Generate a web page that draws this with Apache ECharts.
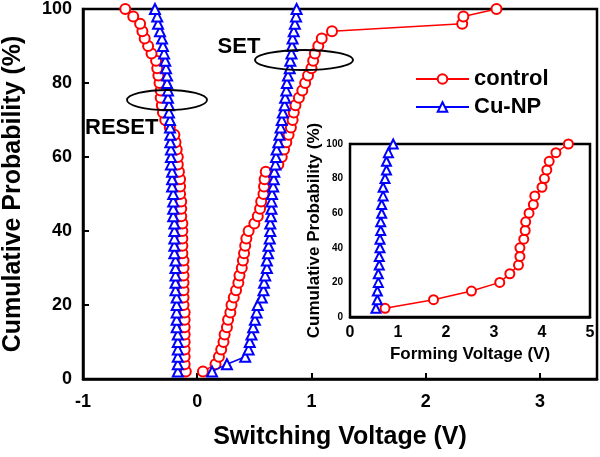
<!DOCTYPE html>
<html><head><meta charset="utf-8">
<script src="https://cdn.jsdelivr.net/npm/echarts@6/dist/echarts.min.js"></script>
<style>html,body{margin:0;padding:0;background:#fff}#c{width:600px;height:457px}</style>
</head><body><div id="c"></div>
<script>
// Main plot: cumulative probability (%)
const probMain = [2,4,6,8,10,12,14,16,18,20,22,24,26,28,30,32,34,36,38,40,42,44,46,48,50,52,54,56,58,60,62,64,66,68,70,72,74,76,78,80,82,84,86,88,90,92,94,96,98,100];
// switching voltages (V)
const controlReset = [-0.10,-0.11,-0.11,-0.11,-0.11,-0.11,-0.11,-0.11,-0.11,-0.12,-0.12,-0.12,-0.12,-0.12,-0.12,-0.12,-0.13,-0.13,-0.13,-0.13,-0.13,-0.14,-0.14,-0.14,-0.15,-0.15,-0.15,-0.16,-0.17,-0.17,-0.18,-0.19,-0.20,-0.24,-0.28,-0.30,-0.31,-0.32,-0.32,-0.33,-0.34,-0.35,-0.36,-0.40,-0.43,-0.46,-0.48,-0.50,-0.56,-0.63];
const controlSet = [0.05,0.16,0.19,0.21,0.23,0.24,0.26,0.27,0.29,0.30,0.32,0.34,0.36,0.37,0.39,0.40,0.41,0.42,0.43,0.45,0.50,0.53,0.55,0.56,0.58,0.585,0.59,0.60,0.71,0.74,0.76,0.78,0.80,0.82,0.835,0.845,0.86,0.89,0.92,0.945,0.97,1.00,1.015,1.03,1.06,1.09,1.18,2.32,2.33,2.62];
const cuReset = [-0.17,-0.17,-0.17,-0.17,-0.17,-0.17,-0.18,-0.18,-0.18,-0.18,-0.18,-0.19,-0.19,-0.19,-0.19,-0.19,-0.20,-0.20,-0.20,-0.20,-0.20,-0.21,-0.21,-0.21,-0.21,-0.22,-0.22,-0.22,-0.23,-0.23,-0.23,-0.235,-0.235,-0.238,-0.238,-0.247,-0.247,-0.256,-0.256,-0.264,-0.264,-0.273,-0.28,-0.29,-0.30,-0.308,-0.326,-0.343,-0.35,-0.37];
const cuSet = [0.13,0.26,0.42,0.45,0.46,0.475,0.49,0.505,0.52,0.53,0.565,0.58,0.585,0.595,0.61,0.61,0.62,0.625,0.635,0.64,0.64,0.645,0.65,0.65,0.655,0.665,0.67,0.675,0.685,0.69,0.695,0.71,0.72,0.73,0.74,0.75,0.765,0.77,0.78,0.785,0.795,0.81,0.815,0.825,0.83,0.835,0.845,0.855,0.865,0.87];
// Inset: forming voltage
const probInset = [5,10,15,20,25,30,35,40,45,50,55,60,65,70,75,80,85,90,95,100];
const controlForming = [0.73,1.74,2.53,3.12,3.33,3.51,3.54,3.54,3.62,3.65,3.66,3.73,3.82,3.85,4.00,4.05,4.10,4.15,4.29,4.55];
const cuForming = [0.54,0.57,0.57,0.59,0.59,0.61,0.61,0.625,0.625,0.64,0.64,0.66,0.66,0.69,0.69,0.73,0.76,0.76,0.80,0.90];
const mainXTicks = [-1,0,1,2,3];
const insetXTicks = [0,1,2,3,4,5];

const FONT = "'Liberation Sans', Arial, sans-serif";
const RED = '#ff0000', BLUE = '#0000ff';
const pairs = (xs, ys) => xs.map((x, i) => [x, ys[i]]);

function mkSeries(name, data, color, symbol, size, xi, yi) {
  return {
    name, type: 'line', data, xAxisIndex: xi, yAxisIndex: yi,
    symbol, symbolSize: size, showSymbol: true,
    lineStyle: { color, width: 1.5 },
    itemStyle: { color, borderColor: color, borderWidth: 1.8 },
    emphasis: { disabled: true }, animation: false, z: color === BLUE ? 3 : 2
  };
}

const axisCommon = (fs) => ({
  axisLine: { show: true, onZero: false, lineStyle: { color: '#000', width: 2.5 } },
  axisTick: { show: true, inside: true, length: 6, lineStyle: { color: '#000', width: 2 } },
  splitLine: { show: false },
  axisLabel: { color: '#000', fontFamily: FONT, fontWeight: 'bold', fontSize: fs },
  nameTextStyle: { color: '#000', fontFamily: FONT, fontWeight: 'bold' }
});

const chart = echarts.init(document.getElementById('c'), null, { renderer: 'canvas' });
const mx = axisCommon(18), my = axisCommon(18), ix = axisCommon(16), iy = axisCommon(10);
chart.setOption({
  backgroundColor: '#fff',
  animation: false,
  grid: [
    { left: 83, top: 9, right: 3, bottom: 78, show: true, borderColor: '#000', borderWidth: 2.5, backgroundColor: 'transparent', containLabel: false, outerBoundsMode: 'none' },
    { left: 350, top: 144, width: 240, height: 173, show: true, borderColor: '#000', borderWidth: 2.5, backgroundColor: '#fff', z: 1, containLabel: false, outerBoundsMode: 'none' }
  ],
  legend: {
    data: ['control', 'Cu-NP'], orient: 'vertical', left: 410, top: 63,
    itemWidth: 53, itemHeight: 12, itemGap: 6,
    textStyle: { fontFamily: FONT, fontWeight: 'bold', fontSize: 22, color: '#000', lineHeight: 22 }
  },
  xAxis: [
    Object.assign(mx, { type: 'value', gridIndex: 0, min: -1, max: 3.5, interval: 1,
      name: 'Switching Voltage (V)', nameLocation: 'middle', nameGap: 46,
      nameTextStyle: Object.assign(mx.nameTextStyle, { fontSize: 25 }),
      axisLabel: Object.assign(mx.axisLabel, { margin: 14, showMaxLabel: false,
        formatter: v => mainXTicks.includes(v) ? String(v) : '' }) }),
    Object.assign(ix, { type: 'value', gridIndex: 1, min: 0, max: 5, interval: 1,
      name: 'Forming Voltage (V)', nameLocation: 'middle', nameGap: 29,
      nameTextStyle: Object.assign(ix.nameTextStyle, { fontSize: 17 }),
      axisLabel: Object.assign(ix.axisLabel, { margin: 8,
        formatter: v => insetXTicks.includes(v) ? String(v) : '' }) })
  ],
  yAxis: [
    Object.assign(my, { type: 'value', gridIndex: 0, min: 0, max: 100, interval: 20,
      name: 'Cumulative Probability (%)', nameLocation: 'middle', nameGap: 57,
      nameTextStyle: Object.assign(my.nameTextStyle, { fontSize: 25 }),
      axisLabel: Object.assign(my.axisLabel, { margin: 11 }) }),
    Object.assign(iy, { type: 'value', gridIndex: 1, min: 0, max: 100, interval: 20,
      name: 'Cumulative Probability (%)', nameLocation: 'middle', nameGap: 26,
      nameTextStyle: Object.assign(iy.nameTextStyle, { fontSize: 17 }),
      axisLabel: Object.assign(iy.axisLabel, { margin: 7 }) })
  ],
  series: [
    mkSeries('control', pairs(controlReset, probMain), RED, 'emptyCircle', 10, 0, 0),
    mkSeries('control', pairs(controlSet, probMain), RED, 'emptyCircle', 10, 0, 0),
    mkSeries('Cu-NP', pairs(cuReset, probMain), BLUE, 'emptyTriangle', 10, 0, 0),
    mkSeries('Cu-NP', pairs(cuSet, probMain), BLUE, 'emptyTriangle', 10, 0, 0),
    mkSeries('control', pairs(controlForming, probInset), RED, 'emptyCircle', 9, 1, 1),
    mkSeries('Cu-NP', pairs(cuForming, probInset), BLUE, 'emptyTriangle', 9, 1, 1)
  ],
  graphic: [
    { type: 'ellipse', shape: { cx: 304, cy: 60, rx: 49, ry: 10 }, style: { fill: 'none', stroke: '#000', lineWidth: 1.8 }, z: 10 },
    { type: 'ellipse', shape: { cx: 167, cy: 100, rx: 40, ry: 10 }, style: { fill: 'none', stroke: '#000', lineWidth: 1.8 }, z: 10 },
    { type: 'text', x: 239, y: 47, style: { text: 'SET', font: "bold 22px 'Liberation Sans', Arial, sans-serif", fill: '#000', align: 'center', verticalAlign: 'middle' }, z: 10 },
    { type: 'text', x: 85, y: 128, style: { text: 'RESET', font: "bold 22px 'Liberation Sans', Arial, sans-serif", fill: '#000', align: 'left', verticalAlign: 'middle' }, z: 10 }
  ]
});
</script></body></html>
